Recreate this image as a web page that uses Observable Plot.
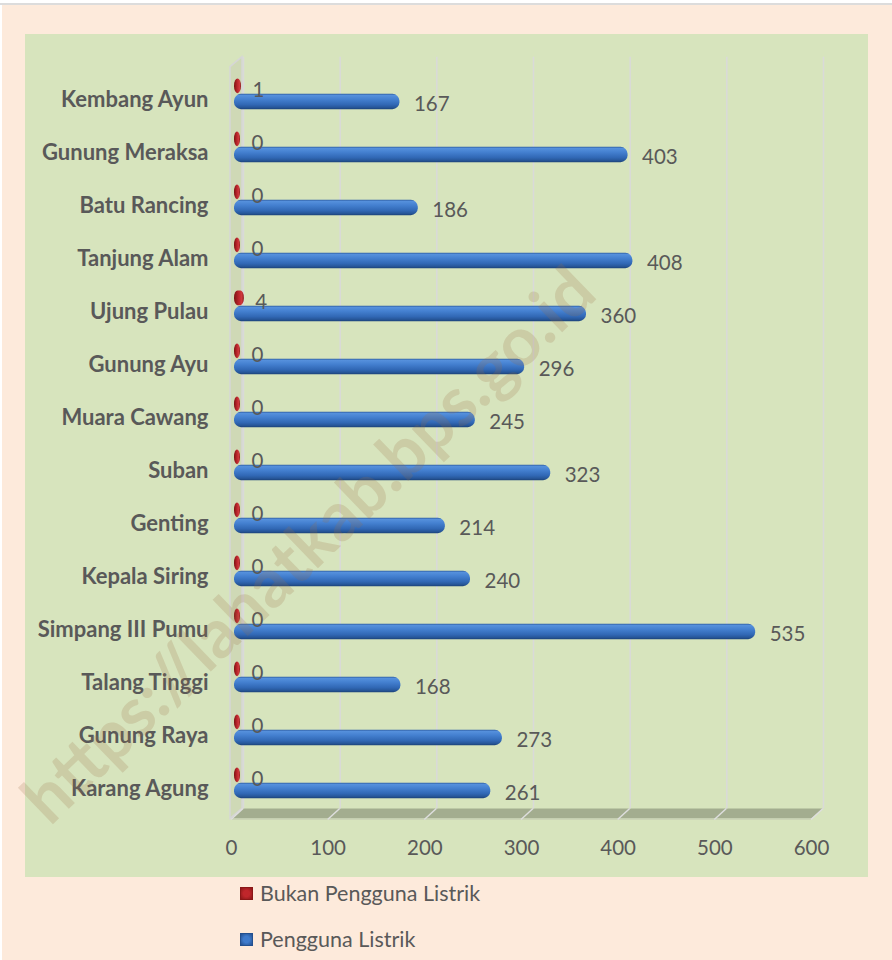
<!DOCTYPE html>
<html><head><meta charset="utf-8">
<script src="https://cdn.jsdelivr.net/npm/d3@7"></script>
<script src="https://cdn.jsdelivr.net/npm/@observablehq/plot@0.6"></script>
<style>
body{margin:0;background:#fff;}
#page{position:relative;width:892px;height:960px;overflow:hidden;}
#topline{position:absolute;left:0;top:3px;width:892px;height:2px;background:#dcdcdc;}
#peach{position:absolute;left:2px;top:5px;width:890px;height:955px;background:#FDEADB;}
#green{position:absolute;left:25px;top:34px;width:843px;height:843px;background:#D7E4BD;}
#chart{position:absolute;left:0;top:0;}
.legend{position:absolute;left:240px;height:24px;font:21.5px Lato, sans-serif;color:#595959;display:flex;align-items:center;}
.sw{width:11px;height:11px;margin-right:7px;border:1px solid;}
</style></head>
<body>
<div id="page">
  <div id="topline"></div>
  <div id="peach"></div>
  <div id="green"></div>
  <div id="chart"></div>
  <div class="legend" id="lg0" style="top:881px"></div>
  <div class="legend" id="lg1" style="top:927px"></div>
</div>
<script>
const villages = ["Kembang Ayun","Gunung Meraksa","Batu Rancing","Tanjung Alam","Ujung Pulau","Gunung Ayu","Muara Cawang","Suban","Genting","Kepala Siring","Simpang III Pumu","Talang Tinggi","Gunung Raya","Karang Agung"];
const pengguna = [167,403,186,408,360,296,245,323,214,240,535,168,273,261];
const bukanPengguna = [1,0,0,0,4,0,0,0,0,0,0,0,0,0];
const xTicks = [0,100,200,300,400,500,600];
const seriesNames = ["Bukan Pengguna Listrik","Pengguna Listrik"];
const watermark = ["https://lahatkab.bps.go.id"];

const blueRows = villages.map((v,i)=>({village:v, value:pengguna[i]}));
const redRows = villages.map((v,i)=>({village:v, value:bukanPengguna[i]}));

const W = 892, H = 880;
const mt = 61.65, mb = H - 813.45;
const OX = 12, OY = 10;
const txt = "#595959";

function decor(index, scales, values, dims) {
  const x = scales.x;
  const g = d3.create("svg:g");
  const defs = g.append("defs");
  const bg = defs.append("linearGradient").attr("id","blueGrad").attr("x1",0).attr("y1",0).attr("x2",0).attr("y2",1);
  [[0,"#2f5fa4"],[0.1,"#5590dc"],[0.35,"#4480d0"],[0.7,"#3168b5"],[0.88,"#27579a"],[1,"#1c437a"]]
    .forEach(([o,c])=>bg.append("stop").attr("offset",o).attr("stop-color",c));
  const rg = defs.append("linearGradient").attr("id","redGrad").attr("x1",0).attr("y1",0).attr("x2",1).attr("y2",0);
  [[0,"#7a1212"],[0.45,"#b8232a"],[0.8,"#cf3a3e"],[1,"#8a1717"]]
    .forEach(([o,c])=>rg.append("stop").attr("offset",o).attr("stop-color",c));
  const yb = dims.height - dims.marginBottom;
  const frontY = yb + 5, backY = yb - 5, topBack = dims.marginTop - 5;
  const x0 = x(xTicks[0]), x1 = x(xTicks[xTicks.length-1]);
  // floor
  g.append("path").attr("d",`M${x0},${frontY}L${x1},${frontY}L${x1+OX},${backY}L${x0+OX},${backY}Z`).attr("fill","#A3AD8F");
  g.append("line").attr("x1",x0).attr("x2",x1).attr("y1",frontY+0.5).attr("y2",frontY+0.5).attr("stroke","#c9d1b4").attr("stroke-width",1.5);
  // left wall
  g.append("path").attr("d",`M${x0-1},${frontY}L${x0-1},${topBack+OY}L${x0+OX-1},${topBack}L${x0+OX-1},${backY}Z`)
    .attr("fill","#cfd9b6").attr("stroke","#d6d6d6").attr("stroke-width",1.5);
  // floor ticks
  for (const t of xTicks) {
    g.append("line").attr("x1",x(t)).attr("y1",frontY+1).attr("x2",x(t)+OX).attr("y2",backY)
      .attr("stroke","#dedede").attr("stroke-width",1.5);
  }
  return g.node();
}

const chart = Plot.plot({
  width: W, height: H,
  marginTop: mt, marginBottom: mb, marginLeft: 231, marginRight: 81,
  style: {background: "transparent", fontFamily: "Lato, sans-serif", color: txt, overflow: "visible"},
  x: {domain: [xTicks[0], xTicks[xTicks.length-1]], axis: null},
  y: {domain: villages, padding: 0, axis: null},
  marks: [
    decor,
    Plot.ruleX(xTicks, {stroke: "#d9d9d9", strokeWidth: 1.5, dx: OX, dy: -5}),
    Plot.barX(redRows, {x: "value", y: "village", fill: "url(#redGrad)", insetTop: 11.5, insetBottom: 26.85, insetLeft: -3, insetRight: -3, dx: 6, rx: 3.5, ry: 7}),
    Plot.barX(blueRows, {x: "value", y: "village", fill: "url(#blueGrad)", insetTop: 26.85, insetBottom: 10.85, insetLeft: -3, insetRight: -1, dx: 6, rx: 7}),
    Plot.text(redRows, {x: "value", y: "village", text: d => String(d.value), dx: 20, dy: -4, textAnchor: "start", fontSize: 20.5, fill: txt}),
    Plot.text(blueRows, {x: "value", y: "village", text: d => String(d.value), dx: 21, dy: 10, textAnchor: "start", fontSize: 20.5, fill: txt}),
    Plot.text(villages, {y: d => d, text: d => d, frameAnchor: "left", textAnchor: "end", dx: -23, dy: 6, fontSize: 22, fontWeight: "bold", fill: txt}),
    Plot.text(xTicks, {x: d => d, text: d => String(d), frameAnchor: "bottom", dy: 41, fontSize: 20.5, fill: txt}),
    Plot.text(watermark, {text: d => d, frameAnchor: "middle", rotate: -44, dx: -212, dy: 108, fontSize: 68, fontWeight: "bold", fill: "#9a6e48", fillOpacity: 0.2})
  ]
});
document.getElementById("chart").appendChild(chart);

const swatch = [["#c0262b","#8a1717"],["#3f7bcc","#24508f"]];
seriesNames.forEach((n,i)=>{
  const el = document.getElementById("lg"+i);
  const s = document.createElement("span");
  s.className = "sw";
  s.style.background = `radial-gradient(circle, ${swatch[i][0]} 40%, ${swatch[i][1]} 100%)`;
  s.style.borderColor = swatch[i][1];
  el.appendChild(s);
  el.appendChild(document.createTextNode(n));
});
</script>
</body></html>
